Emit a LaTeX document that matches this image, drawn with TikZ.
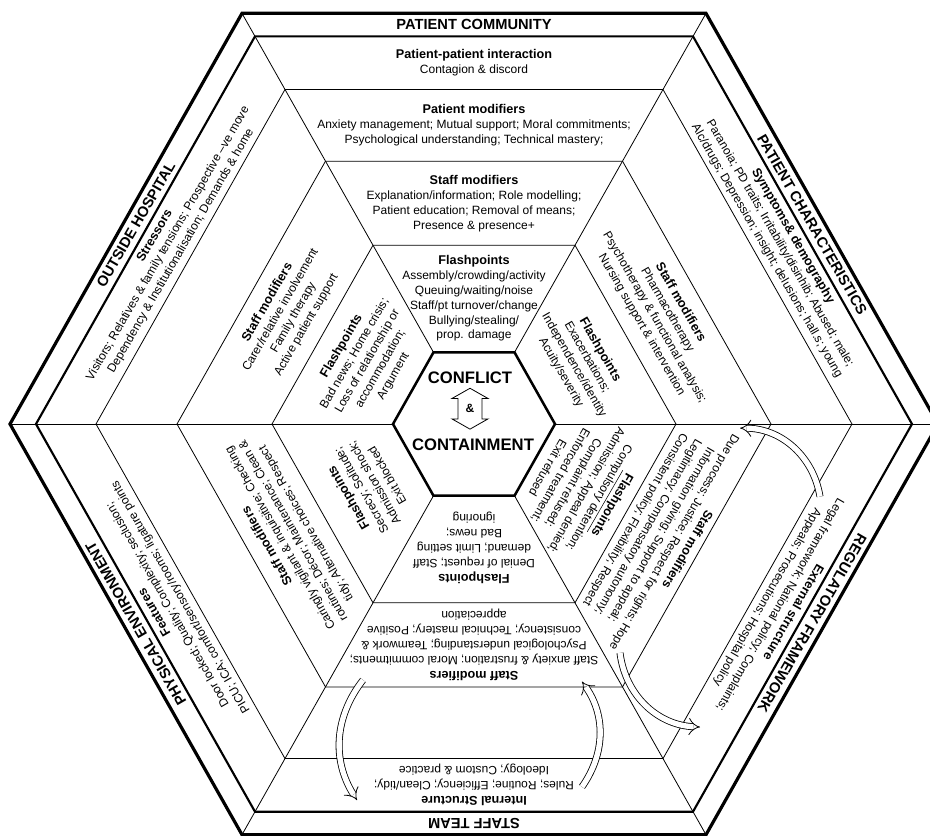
\documentclass[tikz,border=0pt]{standalone}
\usepackage{fontspec}
\setmainfont{Liberation Sans}
\usetikzlibrary{arrows.meta}
\newcommand{\hd}[1]{{\fontsize{9.5}{11.2}\selectfont\bfseries #1}}

\begin{document}
\begin{tikzpicture}[x=0.75pt, y=0.7665pt,
    outer/.style = {line width=2.4pt, line join=miter},
    rim/.style = {line width=1.6pt, line join=miter},
    core/.style = {line width=1.9pt, line join=miter},
    ring/.style = {line width=0.6pt},
    title/.style = {font=\fontsize{11}{13}\selectfont\bfseries, inner sep=0pt, rotate=#1},
    txt/.style = {align=center, font=\fontsize{9}{11.2}\selectfont, inner sep=0pt, rotate=#1},
    big/.style = {font=\fontsize{12.5}{14}\selectfont\bfseries, inner sep=0pt},
    swing/.style = {double, double distance=4pt, line width=0.6pt, -{Implies}}]
\useasboundingbox (-474,-403.1) rectangle (456,414.9);

% rings and spokes
\foreach \a in {0,60,...,300}
  \draw[ring] (\a:81) -- (\a:464);
\foreach \r/\s in {464/outer, 438/rim, 378/ring, 297/ring, 202/ring, 81/core}
  \draw[\s] (0:\r) -- (60:\r) -- (120:\r) -- (180:\r) -- (240:\r) -- (300:\r) -- cycle;

% centre
\node[big] (conflict) at (-4,45) {CONFLICT};
\node[big] (containment) at (-1,-20.5) {CONTAINMENT};
\node[font=\fontsize{9}{10}\selectfont\bfseries] (amp) at (-4,15) {\&};
\draw[ring, shift={(amp.center)}] (-12,-10) -- (-12,10) -- (-18,10) -- (0,20) -- (18,10) -- (12,10)
  -- (12,-10) -- (18,-10) -- (0,-20) -- (-18,-10) -- cycle;

% top: patient community
\node[title=0] (community) at (90:390.5) {PATIENT COMMUNITY};
\node[txt=0] (interaction) at (90:353.3) {\hd{Patient-patient interaction}\\ Contagion \& discord};
\node[txt=0] (ptmod) at (90:292.3) {\hd{Patient modifiers}\\ Anxiety management; Mutual support; Moral commitments;\\ Psychological understanding; Technical mastery;};
\node[txt=0] (topstaff) at (90:216) {\hd{Staff modifiers}\\ Explanation/information; Role modelling;\\ Patient education; Removal of means;\\ Presence \& presence+};
\node[txt=0] (topflash) at (90:123) {\hd{Flashpoints}\\ Assembly/crowding/activity\\ Queuing/waiting/noise\\ Staff/pt turnover/change\\ Bullying/stealing/\\ prop. damage};

% upper right: patient characteristics
\node[title=-60] (patchar) at (30:390.5) {PATIENT CHARACTERISTICS};
\node[txt=-60] (symptoms) at (30:353.3) {\hd{Symptoms\& demography}\\ Paranoia; PD traits; Irritability/disinhib; Abused; male;\\ Alc/drugs; Depression; insight; delusions; hall.s; young};
\node[txt=-60] (urstaff) at (30:216) {\hd{Staff modifiers}\\ Pharmacotherapy\\ Psychotherapy \& functional analysis;\\ Nursing support \& intervention};
\node[txt=-60] (urflash) at (30:123) {\hd{Flashpoints}\\ Exacerbations;\\ Independence/identity\\ Acuity/severity};

% lower right: regulatory framework
\node[title=-120] (regulatory) at (-30:390.5) {REGULATORY FRAMEWORK};
\node[txt=-120] (external) at (-30:353.3) {\hd{External structure}\\ Legal framework; National policy; Complaints;\\ Appeals; Prosecutions; Hospital policy};
\node[txt=-120] (lrstaff) at (-30:216) {\hd{Staff modifiers}\\ Due process; Justice; Respect for rights; Hope\\ Information giving; Support to appeal;\\ Legitimacy; Compensatory autonomy;\\ Consistent policy; Flexibility; Respect};
\node[txt=-120] (lrflash) at (-30:123) {\underline{\hd{Flashpoints}}\\ Compulsory detention;\\ Admission; Appeal denied;\\ Complaint refused;\\ Enforced treatment;\\ Exit refused};

% bottom: staff team
\node[title=180] (staffteam) at (-90:390.5) {STAFF TEAM};
\node[txt=180] (internal) at (-90:353.3) {\hd{Internal Structure}\\ Rules; Routine; Efficiency; Clean/tidy;\\ Ideology; Custom \& practice};
\node[txt=180] (botstaff) at (-90:216) {\hd{Staff modifiers}\\ Staff anxiety \& frustration; Moral commitments;\\ Psychological understanding; Teamwork \&\\ consistency; Technical mastery; Positive\\ appreciation};
\node[txt=180] (botflash) at (-90:121) {\hd{Flashpoints}\\ Denial of request; Staff\\ demand; Limit setting\\ Bad news;\\ ignoring};

% lower left: physical environment
\node[title=120] (physical) at (210:390.5) {PHYSICAL ENVIRONMENT};
\node[txt=120] (features) at (210:353.3) {\hd{Features}\\ Door locked; Quality; Complexity; seclusion;\\ PICU; ICA; comfort/sensory/rooms; ligature points};
\node[txt=120] (llstaff) at (210:216) {\hd{Staff modifiers}\\ Caringly vigilant \& inquisitive; Checking\\ routines; Décor; Maintenance; Clean \&\\ tidy; Alternative choices; Respect};
\node[txt=120] (llflash) at (210:123) {\hd{Flashpoints}\\ Secrecy; Solitude;\\ Admission shock;\\ Exit blocked};

% upper left: outside hospital
\node[title=60] (outside) at (150:390.5) {OUTSIDE HOSPITAL};
\node[txt=60] (stressors) at (150:353.3) {\hd{Stressors}\\ Visitors; Relatives \& family tensions; Prospective --ve move\\ Dependency \& Institutionalisation; Demands \& home};
\node[txt=60] (ulstaff) at (150:216) {\hd{Staff modifiers}\\ Carer/relative involvement\\ Family therapy\\ Active patient support};
\node[txt=60] (ulflash) at (150:123) {\hd{Flashpoints}\\ Bad news; Home crisis;\\ Loss of relationship or\\ accommodation;\\ Argument};

% curved links between rings
\coordinate (bl1) at (-111,-250.5);
\coordinate (bl2) at (-117,-368);
\coordinate (br1) at (108,-355);
\coordinate (br2) at (108,-252);
\coordinate (lr1) at (346,-71);
\coordinate (lr2) at (266,-4);
\coordinate (lr3) at (146,-224);
\coordinate (lr4) at (226,-296.5);
\draw[swing] (bl1) to[bend right=35] (bl2);
\draw[swing] (br1) to[bend right=35] (br2);
\draw[swing] (lr1) to[bend right=40] (lr2);
\draw[swing] (lr3) to[bend right=40] (lr4);
\end{tikzpicture}
\end{document}
